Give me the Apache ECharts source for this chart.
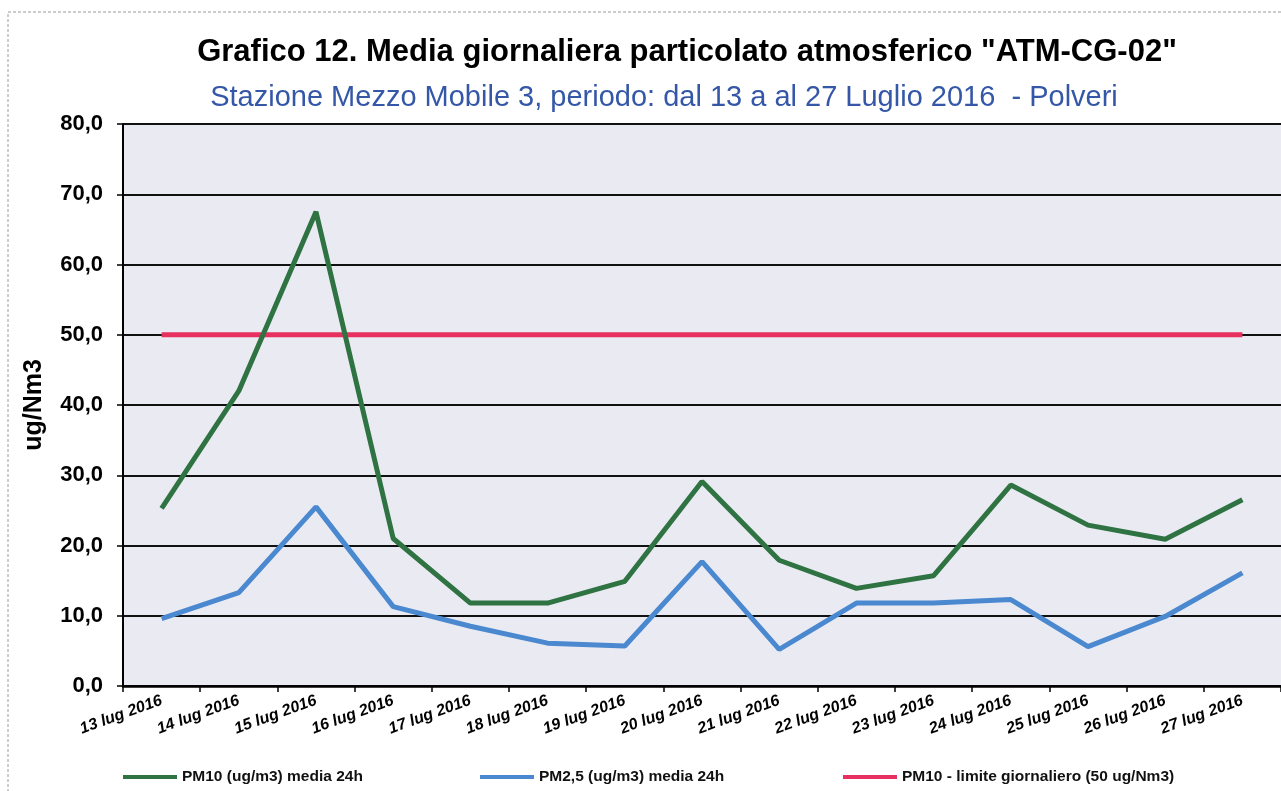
<!DOCTYPE html>
<html>
<head>
<meta charset="utf-8">
<script src="https://cdn.jsdelivr.net/npm/echarts@6/dist/echarts.min.js"></script>
<style>
  html, body { margin: 0; padding: 0; background: #ffffff; }
  #chart { width: 1281px; height: 791px; }
</style>
</head>
<body>
<div id="chart"></div>
<script>
// Daily means of atmospheric particulate, station ATM-CG-02
const days = [
  '13 lug 2016', '14 lug 2016', '15 lug 2016', '16 lug 2016', '17 lug 2016',
  '18 lug 2016', '19 lug 2016', '20 lug 2016', '21 lug 2016', '22 lug 2016',
  '23 lug 2016', '24 lug 2016', '25 lug 2016', '26 lug 2016', '27 lug 2016'
];
const pm10 = [25.3, 42.0, 67.5, 21.0, 11.8, 11.8, 14.9, 29.1, 17.9, 13.9, 15.7, 28.6, 22.9, 20.9, 26.5];
const pm25 = [9.6, 13.3, 25.5, 11.3, 8.5, 6.1, 5.7, 17.7, 5.2, 11.8, 11.8, 12.3, 5.6, 9.9, 16.1];
const pm10Limit = [50, 50, 50, 50, 50, 50, 50, 50, 50, 50, 50, 50, 50, 50, 50];
const yTicks = { min: 0, max: 80, step: 10 };

const seriesNames = [
  'PM10 (ug/m3) media 24h',
  'PM2,5 (ug/m3) media 24h',
  'PM10 - limite giornaliero (50 ug/Nm3)'
];
const colors = ['#2f7343', '#4a88cf', '#e8305f'];

const chart = echarts.init(document.getElementById('chart'));

// one legend block per series, spread along the bottom
function legendAt(name, left) {
  return {
    data: [name],
    left: left,
    top: 764,
    icon: 'rect',
    itemWidth: 54,
    itemHeight: 4,
    textStyle: {
      fontFamily: 'Liberation Sans, Arial',
      fontSize: 15.5,
      color: '#111',
      fontWeight: 'bold'
    }
  };
}

chart.setOption({
  animation: false,
  backgroundColor: '#ffffff',
  title: [
    {
      text: 'Grafico 12. Media giornaliera particolato atmosferico "ATM-CG-02"',
      left: 682,
      top: 32,
      textAlign: 'center',
      textStyle: {
        fontFamily: 'Liberation Sans, Arial',
        fontWeight: 'bold',
        fontSize: 31,
        color: '#000'
      }
    },
    {
      text: 'Stazione Mezzo Mobile 3, periodo: dal 13 a al 27 Luglio 2016  - Polveri',
      left: 659,
      top: 78,
      textAlign: 'center',
      textStyle: {
        fontFamily: 'Liberation Sans, Arial',
        fontWeight: 'normal',
        fontSize: 29,
        color: '#3557a8'
      }
    }
  ],
  legend: [
    legendAt(seriesNames[0], 118),
    legendAt(seriesNames[1], 475),
    legendAt(seriesNames[2], 838)
  ],
  graphic: [
    {
      type: 'rect',
      shape: { x: 8, y: 12, width: 1290, height: 800 },
      style: { fill: 'none', stroke: '#9a9a9a', lineWidth: 1, lineDash: [3, 2] },
      silent: true
    }
  ],
  grid: {
    left: 123,
    right: -6,
    top: 124,
    bottom: 105,
    show: true,
    backgroundColor: '#eaeaf3',
    borderWidth: 0
  },
  xAxis: {
    type: 'category',
    data: days,
    boundaryGap: true,
    axisLine: { show: true, lineStyle: { color: '#000', width: 2.5 } },
    axisTick: { show: true, alignWithLabel: false, length: 6, lineStyle: { color: '#000', width: 1.5 } },
    axisLabel: {
      rotate: 20,
      interval: 0,
      margin: 14,
      fontFamily: 'Liberation Sans, Arial',
      fontWeight: 'bold',
      fontStyle: 'italic',
      fontSize: 16,
      color: '#000'
    },
    splitLine: { show: false }
  },
  yAxis: {
    type: 'value',
    min: yTicks.min,
    max: yTicks.max,
    interval: yTicks.step,
    name: 'ug/Nm3',
    nameLocation: 'middle',
    nameGap: 76,
    nameRotate: 90,
    nameTextStyle: {
      fontFamily: 'Liberation Sans, Arial',
      fontWeight: 'bold',
      fontSize: 25,
      color: '#000'
    },
    axisLine: { show: true, lineStyle: { color: '#000', width: 2 } },
    axisTick: { show: true, length: 6, lineStyle: { color: '#000', width: 1.5 } },
    axisLabel: {
      margin: 20,
      fontFamily: 'Liberation Sans, Arial',
      fontWeight: 'bold',
      fontSize: 22,
      color: '#000',
      formatter: v => v.toFixed(1).replace('.', ',')
    },
    splitLine: { show: true, lineStyle: { color: '#111', width: 2 } }
  },
  series: [
    {
      name: seriesNames[0],
      type: 'line',
      data: pm10,
      showSymbol: false,
      symbol: 'none',
      lineStyle: { color: colors[0], width: 5 },
      itemStyle: { color: colors[0] },
      z: 3
    },
    {
      name: seriesNames[1],
      type: 'line',
      data: pm25,
      showSymbol: false,
      symbol: 'none',
      lineStyle: { color: colors[1], width: 5 },
      itemStyle: { color: colors[1] },
      z: 3
    },
    {
      name: seriesNames[2],
      type: 'line',
      data: pm10Limit,
      showSymbol: false,
      symbol: 'none',
      lineStyle: { color: colors[2], width: 5 },
      itemStyle: { color: colors[2] },
      z: 2
    }
  ]
});
</script>
</body>
</html>
